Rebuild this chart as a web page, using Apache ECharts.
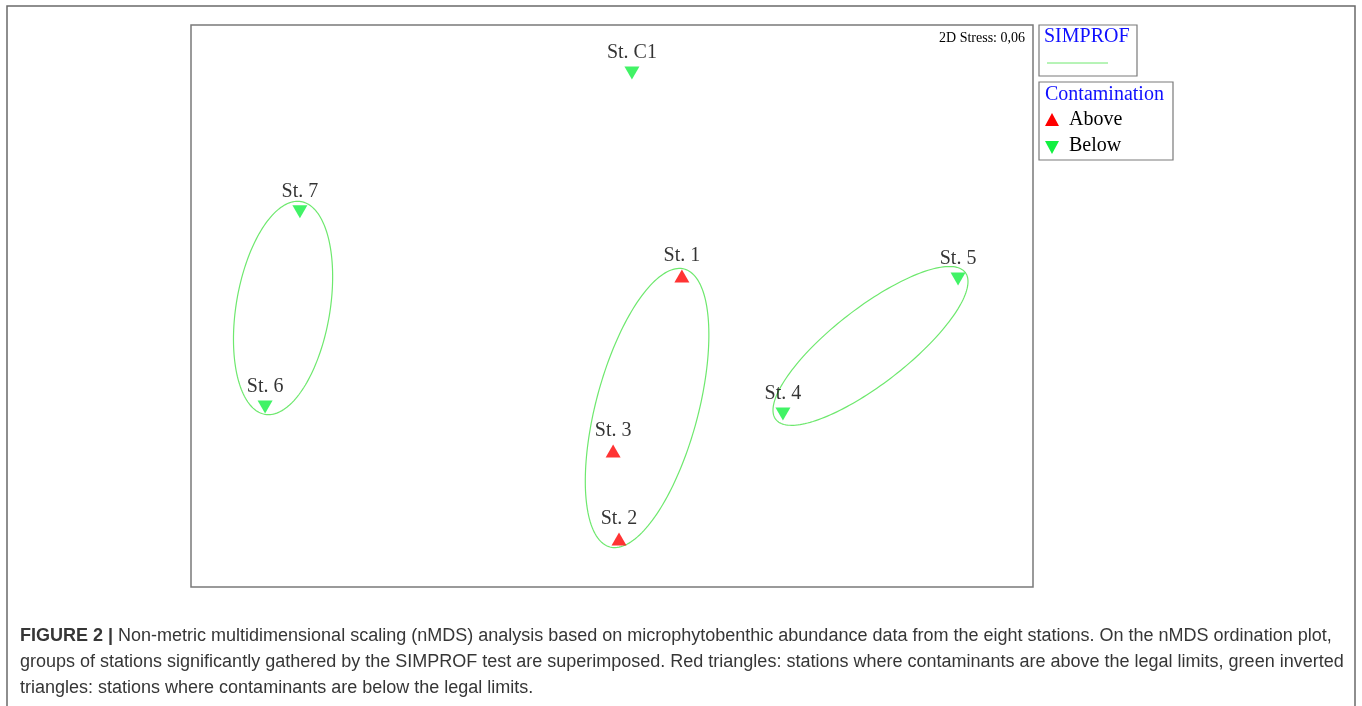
<!DOCTYPE html>
<html>
<head>
<meta charset="utf-8">
<script src="https://cdn.jsdelivr.net/npm/echarts@6/dist/echarts.min.js"></script>
<style>
  html, body { margin: 0; padding: 0; background: #fff; }
  #chart { width: 1362px; height: 706px; }
</style>
</head>
<body>
<div id="chart"></div>
<script>
// nMDS ordination coordinates of the stations
const stations = ['St. C1', 'St. 7', 'St. 6', 'St. 1', 'St. 3', 'St. 2', 'St. 5', 'St. 4'];
const dim1 = [0.071, -1.112, -1.236, 0.249, 0.004, 0.025, 1.233, 0.609];
const dim2 = [0.829, 0.335, -0.359, 0.107, -0.516, -0.829, 0.096, -0.384];
const contamination = ['Below', 'Below', 'Below', 'Above', 'Above', 'Above', 'Below', 'Below'];

// SIMPROF groups drawn as ellipses: centre, semi-axes and tilt of the major axis (degrees)
const groupCx = [-1.172, 0.125, 0.921];
const groupCy = [-0.007, -0.363, -0.142];
const groupA = [0.384, 0.512, 0.427];
const groupB = [0.167, 0.182, 0.135];
const groupAngle = [80.4, 75, 37.8];

const stressText = '2D Stress: 0,06';
const captionLines = [
  'Non-metric multidimensional scaling (nMDS) analysis based on microphytobenthic abundance data from the eight stations. On the nMDS ordination plot,',
  'groups of stations significantly gathered by the SIMPROF test are superimposed. Red triangles: stations where contaminants are above the legal limits, green inverted',
  'triangles: stations where contaminants are below the legal limits.'
];

const RED = '#ff0000';
const GREEN = '#12f040';
const LINE_GREEN = '#6ee86e';
const SERIF = '"Liberation Serif", "Times New Roman", serif';
const SANS = '"Liberation Sans", Arial, sans-serif';
const CAPTION = '#363636';

function pointsFor(kind) {
  const out = [];
  stations.forEach((name, i) => {
    if (contamination[i] === kind) out.push({ name: name, value: [dim1[i], dim2[i]] });
  });
  return out;
}

const ellipseData = groupCx.map((cx, i) => [cx, groupCy[i], groupA[i], groupB[i], groupAngle[i]]);

const chart = echarts.init(document.getElementById('chart'), null, { renderer: 'canvas' });

const labelStyle = {
  show: true,
  position: 'top',
  distance: 4,
  formatter: '{b}',
  fontFamily: SERIF,
  fontSize: 20,
  color: '#000'
};

chart.setOption({
  animation: false,
  backgroundColor: '#fff',
  grid: {
    left: 191, top: 25, width: 842, height: 562,
    show: true, borderColor: '#7a7a7a', borderWidth: 1.5, backgroundColor: '#fff'
  },
  xAxis: { type: 'value', min: -1.5, max: 1.5, show: false },
  yAxis: { type: 'value', min: -1, max: 1, show: false },
  series: [
    {
      type: 'custom',
      name: 'SIMPROF',
      data: ellipseData,
      silent: true,
      clip: false,
      z: 1,
      renderItem: function (params, api) {
        const cx = api.value(0), cy = api.value(1);
        const a = api.value(2), b = api.value(3);
        const t = api.value(4) * Math.PI / 180;
        const pts = [];
        const n = 180;
        for (let k = 0; k < n; k++) {
          const u = (k / n) * Math.PI * 2;
          const ex = a * Math.cos(u), ey = b * Math.sin(u);
          pts.push(api.coord([
            cx + ex * Math.cos(t) - ey * Math.sin(t),
            cy + ex * Math.sin(t) + ey * Math.cos(t)
          ]));
        }
        return {
          type: 'polygon',
          shape: { points: pts },
          style: { fill: 'none', stroke: LINE_GREEN, lineWidth: 1.2 }
        };
      }
    },
    {
      type: 'scatter',
      name: 'Above',
      data: pointsFor('Above'),
      symbol: 'triangle',
      symbolSize: [15, 13],
      itemStyle: { color: RED },
      label: labelStyle,
      z: 3
    },
    {
      type: 'scatter',
      name: 'Below',
      data: pointsFor('Below'),
      symbol: 'triangle',
      symbolRotate: 180,
      symbolSize: [15, 13],
      itemStyle: { color: GREEN },
      label: labelStyle,
      z: 3
    }
  ],
  graphic: [
    // outer figure frame
    { type: 'rect', shape: { x: 7, y: 6, width: 1348, height: 720 },
      style: { fill: 'none', stroke: '#6a6a6a', lineWidth: 1.5 }, z: 0, silent: true },
    // stress value
    { type: 'text', x: 1025, y: 38,
      style: { text: stressText, font: '14px ' + SERIF, fill: '#000', textAlign: 'right', textVerticalAlign: 'middle' }, z: 10 },
    // SIMPROF legend box
    { type: 'rect', shape: { x: 1039, y: 25, width: 98, height: 51 },
      style: { fill: '#fff', stroke: '#7a7a7a', lineWidth: 1.2 }, z: 10 },
    { type: 'text', x: 1044, y: 37,
      style: { text: 'SIMPROF', font: '20px ' + SERIF, fill: '#1010ff', textVerticalAlign: 'middle' }, z: 11 },
    { type: 'line', shape: { x1: 1047, y1: 63, x2: 1108, y2: 63 },
      style: { stroke: LINE_GREEN, lineWidth: 1 }, z: 11 },
    // Contamination legend box
    { type: 'rect', shape: { x: 1039, y: 82, width: 134, height: 78 },
      style: { fill: '#fff', stroke: '#7a7a7a', lineWidth: 1.2 }, z: 10 },
    { type: 'text', x: 1045, y: 95,
      style: { text: 'Contamination', font: '20px ' + SERIF, fill: '#1010ff', textVerticalAlign: 'middle' }, z: 11 },
    { type: 'polygon', shape: { points: [[1045, 126], [1059, 126], [1052, 113]] },
      style: { fill: RED }, z: 11 },
    { type: 'text', x: 1069, y: 120,
      style: { text: 'Above', font: '20px ' + SERIF, fill: '#000', textVerticalAlign: 'middle' }, z: 11 },
    { type: 'polygon', shape: { points: [[1045, 141], [1059, 141], [1052, 154]] },
      style: { fill: GREEN }, z: 11 },
    { type: 'text', x: 1069, y: 146,
      style: { text: 'Below', font: '20px ' + SERIF, fill: '#000', textVerticalAlign: 'middle' }, z: 11 },
    // caption
    { type: 'text', x: 20, y: 636,
      style: {
        text: '{b|FIGURE 2 |} {n|' + captionLines[0] + '}',
        textVerticalAlign: 'middle',
        rich: {
          b: { fontFamily: SANS, fontSize: 18, fontWeight: 'bold', fill: CAPTION, color: CAPTION },
          n: { fontFamily: SANS, fontSize: 18, fill: CAPTION, color: CAPTION }
        },
        font: '18px ' + SANS, fill: CAPTION
      }, z: 10 },
    { type: 'text', x: 20, y: 662,
      style: { text: captionLines[1], font: '18px ' + SANS, fill: CAPTION, textVerticalAlign: 'middle' }, z: 10 },
    { type: 'text', x: 20, y: 688,
      style: { text: captionLines[2], font: '18px ' + SANS, fill: CAPTION, textVerticalAlign: 'middle' }, z: 10 }
  ]
});
</script>
</body>
</html>
